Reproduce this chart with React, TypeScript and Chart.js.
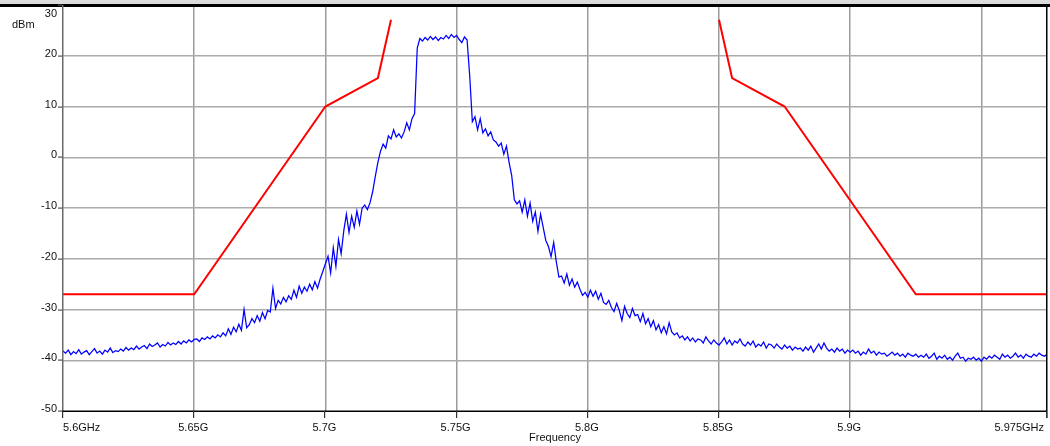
import React, { useEffect, useRef } from "react";
import { Chart, registerables } from "chart.js";

Chart.register(...registerables);

// ---- data ----
const FREQ_START_GHZ = 5.6;
const FREQ_STEP_GHZ = 0.001;

// measured spectrum trace, dBm, one value per 1 MHz from 5.600 GHz to 5.975 GHz
const TRACE_DBM: number[] = [
  // 5.600 - 5.650
  -38.2, -38.6, -38.0, -38.9, -38.3, -38.7, -37.9, -38.8, -38.4, -38.1, -38.9,
  -38.3, -37.7, -38.6, -38.2, -38.8, -38.0, -38.4, -37.6, -38.5, -38.1,
  -38.3, -37.8, -38.2, -37.5, -38.0, -37.6, -37.9, -37.2, -37.8, -37.4,
  -37.1, -37.7, -36.8, -37.3, -37.0, -36.6, -37.4, -36.9, -37.2, -36.5,
  -37.0, -36.6, -36.9, -36.3, -36.8, -36.2, -36.6, -36.0, -36.4, -35.9,
  // 5.651 - 5.660
  -35.8, -36.3, -35.6, -35.9, -35.4, -35.8, -35.2, -35.6, -35.0, -35.4,
  // 5.661 - 5.670
  -34.6, -35.2, -33.8, -34.9, -33.5, -34.4, -32.9, -34.1, -30.0, -33.6,
  // 5.671 - 5.680
  -33.0, -31.8, -32.6, -31.2, -32.3, -30.6, -31.8, -30.2, -30.5, -25.8,
  // 5.681 - 5.690
  -29.8, -28.2, -28.9, -27.6, -28.5, -27.3, -28.0, -26.2, -27.6, -25.4,
  // 5.691 - 5.700
  -26.8, -25.6, -26.4, -25.0, -26.1, -24.5, -25.8, -24.0, -22.5, -21.0,
  // 5.701 - 5.710
  -19.5, -22.8, -17.8, -21.5, -16.2, -19.0, -14.5, -11.2, -14.8, -11.6,
  // 5.711 - 5.720
  -13.8, -10.6, -13.2, -10.0, -9.4, -10.3, -9.0, -6.8, -3.8, -1.0,
  // 5.721 - 5.730
  1.2, 2.6, 1.8, 4.2, 3.6, 5.4, 4.0, 4.6, 3.8, 5.0,
  // 5.731 - 5.735
  6.8, 5.4, 7.6, 8.6, 21.5,
  // 5.736 - 5.754
  23.4, 22.9, 23.6, 23.1, 23.8, 23.2, 23.7, 23.0, 23.6, 23.3,
  24.0, 23.4, 24.2, 23.6, 24.0, 23.2, 22.6, 23.7, 23.1,
  // 5.755 - 5.765
  16.0, 7.0, 8.0, 5.4, 7.6, 4.8, 5.6, 4.2, 5.0, 3.4, 3.0,
  // 5.766 - 5.772
  2.2, 2.8, 0.6, 2.2, -1.0, -3.6, -8.4,
  // 5.773 - 5.778
  -9.2, -8.6, -10.8, -8.4, -11.6, -9.0,
  // 5.779 - 5.784
  -12.6, -10.8, -14.6, -11.2, -13.8, -16.4,
  // 5.785 - 5.789
  -17.6, -19.6, -16.8, -20.6, -23.6,
  // 5.790 - 5.796
  -23.4, -24.8, -23.0, -25.2, -24.0, -25.6, -24.6,
  // 5.797 - 5.802
  -26.0, -27.2, -26.6, -27.6, -26.2, -27.4,
  // 5.803 - 5.806
  -26.4, -28.0, -26.8, -28.6,
  // 5.807 - 5.818
  -29.0, -28.2, -29.6, -30.4, -28.8, -30.2, -32.2, -29.4, -30.8, -31.6, -29.8, -31.2,
  // 5.819 - 5.832
  -31.0, -32.4, -30.8, -32.8, -31.8, -33.4, -32.2, -34.0, -33.0, -34.6, -33.4, -34.8, -32.6, -34.4,
  // 5.833 - 5.850
  -35.0, -34.6, -35.6, -35.2, -36.0, -35.4, -36.2, -35.6, -36.4, -35.8,
  -36.0, -36.6, -35.4, -36.2, -36.8, -36.0, -36.6, -37.0,
  // 5.851 - 5.880
  -36.4, -35.6, -36.8, -36.0, -37.0, -36.2, -36.6, -35.8, -36.8, -37.2,
  -36.4, -37.0, -36.2, -37.4, -36.8, -37.2, -36.4, -37.6, -36.8, -37.0,
  -37.6, -36.8, -37.4, -37.8, -37.0, -37.6, -37.2, -38.0, -37.4, -37.8,
  // 5.881 - 5.900
  -37.6, -38.2, -37.4, -38.0, -37.2, -38.4, -37.6, -36.8, -37.8, -36.6,
  -37.6, -38.2, -37.8, -38.4, -37.6, -38.2, -37.8, -38.6, -38.0, -38.4,
  // 5.901 - 5.926
  -38.0, -38.6, -38.2, -39.0, -38.4, -38.8, -37.8, -38.6, -38.2, -39.0,
  -38.4, -38.8, -38.6, -39.2, -38.8, -38.4, -39.0, -38.6, -39.2, -38.8,
  -39.4, -38.6, -39.0, -39.2, -38.8, -39.4,
  // 5.927 - 5.948
  -39.0, -39.4, -38.8, -39.6, -39.2, -38.6, -39.8, -39.2, -39.6, -39.0,
  -39.8, -39.4, -40.0, -39.2, -38.6, -39.6, -39.4, -40.2, -39.6, -39.8,
  -39.4, -40.0,
  // 5.949 - 5.975
  -39.6, -40.2, -39.4, -39.8, -39.2, -39.6, -39.0, -39.4, -39.8, -38.8,
  -39.4, -39.0, -39.6, -39.2, -38.6, -39.4, -39.0, -39.6, -38.8, -39.2,
  -39.4, -38.8, -39.2, -38.6, -39.0, -39.2, -38.8,
];

// spectral emission mask (two branches, separated by a gap)
const MASK_FREQ: number[] = [5.6, 5.65, 5.7, 5.72, 5.725, 5.79, 5.85, 5.855, 5.875, 5.925, 5.975];
const MASK_DBM: (number | null)[] = [-27, -27, 10, 15.6, 27.1, null, 27.1, 15.6, 10, -27, -27];

const X_MIN = 5.6;
const X_MAX = 5.975;
const X_TICKS: number[] = [5.6, 5.65, 5.7, 5.75, 5.8, 5.85, 5.9, 5.95, 5.975];
const X_TICK_LABELS: string[] = ["5.6GHz", "5.65G", "5.7G", "5.75G", "5.8G", "5.85G", "5.9G", "", "5.975GHz"];

const Y_MIN = -50;
const Y_MAX = 30;
const Y_TICKS: number[] = [30, 20, 10, 0, -10, -20, -30, -40, -50];
const Y_TICK_LABELS: string[] = ["30", "20", "10", "0", "-10", "-20", "-30", "-40", "-50"];

const Y_UNIT = "dBm";
const X_TITLE = "Frequency";

const FONT = '11px "Liberation Sans", Arial, sans-serif';

const framePlugin = {
  id: "frame",
  afterDraw(chart: any) {
    const ctx = chart.ctx as CanvasRenderingContext2D;
    const xs = chart.scales.x;
    const ys = chart.scales.y;
    const { left, right, top, bottom } = chart.chartArea;
    const W = chart.width;
    ctx.save();

    // top band
    ctx.fillStyle = "#dcdcdc";
    ctx.fillRect(0, 0, W, 4);
    ctx.fillStyle = "#000";
    ctx.fillRect(0, 4, W, 3);

    // left axis
    ctx.fillStyle = "#6a6a6a";
    ctx.fillRect(left - 1, top, 1.5, bottom - top);
    // bottom axis
    ctx.fillStyle = "#000";
    ctx.fillRect(left - 1, bottom - 0.5, right - left + 1, 1.5);
    // right border
    ctx.fillRect(right - 1, top, 1.5, bottom - top + 7);

    // x tick marks + labels
    ctx.font = FONT;
    ctx.textBaseline = "alphabetic";
    X_TICKS.forEach((v, i) => {
      const label = X_TICK_LABELS[i];
      const px = xs.getPixelForValue(v);
      if (!label) return;
      ctx.fillStyle = "#333";
      ctx.fillRect(Math.round(px) - 1, bottom, 1.2, 7);
      ctx.fillStyle = "#111";
      if (i === 0) {
        ctx.textAlign = "left";
        ctx.fillText(label, px, bottom + 20);
      } else if (i === X_TICKS.length - 1) {
        ctx.textAlign = "right";
        ctx.fillText(label, px - 3, bottom + 20);
      } else {
        ctx.textAlign = "center";
        ctx.fillText(label, px - 1, bottom + 20);
      }
    });

    // y tick marks + labels
    Y_TICKS.forEach((v, i) => {
      const py = ys.getPixelForValue(v);
      ctx.fillStyle = "#555";
      ctx.fillRect(left - 5, Math.round(py) - 0.5, 4, 1.2);
      ctx.fillStyle = "#111";
      ctx.textAlign = "right";
      ctx.textBaseline = "alphabetic";
      const base = i === 0 ? py + 12 : py + 1;
      ctx.fillText(Y_TICK_LABELS[i], left - 6, base);
    });

    // unit + axis title
    ctx.textAlign = "left";
    ctx.fillText(Y_UNIT, 12, 28);
    ctx.textAlign = "center";
    ctx.fillText(X_TITLE, (left + right) / 2, bottom + 30);

    ctx.restore();
  },
};

export default function App() {
  const ref = useRef<HTMLCanvasElement | null>(null);

  useEffect(() => {
    document.body.style.margin = "0";
    if (!ref.current) return;
    const trace = TRACE_DBM.map((y, i) => ({
      x: +(FREQ_START_GHZ + i * FREQ_STEP_GHZ).toFixed(3),
      y,
    }));
    const mask = MASK_FREQ.map((x, i) => ({ x, y: MASK_DBM[i] }));

    const chart = new Chart(ref.current, {
      type: "line",
      data: {
        datasets: [
          {
            data: trace as any,
            borderColor: "#0000ff",
            borderWidth: 1.25,
            pointRadius: 0,
            tension: 0,
          },
          {
            data: mask as any,
            borderColor: "#ff0000",
            borderWidth: 2,
            pointRadius: 0,
            tension: 0,
            spanGaps: false,
          },
        ],
      },
      options: {
        animation: false,
        responsive: false,
        events: [],
        layout: { padding: { top: 5, right: 3, left: 0, bottom: 0 } },
        plugins: {
          legend: { display: false },
          tooltip: { enabled: false },
        },
        scales: {
          x: {
            type: "linear",
            min: X_MIN,
            max: X_MAX,
            afterBuildTicks: (s: any) => {
              s.ticks = X_TICKS.map((value) => ({ value }));
            },
            afterFit: (s: any) => {
              s.height = 35;
            },
            ticks: { display: false },
            border: { display: false },
            grid: {
              drawTicks: false,
              lineWidth: 1.5,
              color: (c: any) => {
                const v = c.tick?.value;
                if (v === X_MIN || v === X_MAX) return "rgba(0,0,0,0)";
                return "#9c9c9c";
              },
            },
          },
          y: {
            type: "linear",
            min: Y_MIN,
            max: Y_MAX,
            afterBuildTicks: (s: any) => {
              s.ticks = Y_TICKS.map((value) => ({ value }));
            },
            afterFit: (s: any) => {
              s.width = 63;
            },
            ticks: { display: false },
            border: { display: false },
            grid: {
              drawTicks: false,
              lineWidth: 1.5,
              color: (c: any) => {
                const v = c.tick?.value;
                if (v === Y_MIN || v === Y_MAX) return "rgba(0,0,0,0)";
                return "#ababab";
              },
            },
          },
        },
      },
      plugins: [framePlugin],
    });
    return () => chart.destroy();
  }, []);

  return (
    <div style={{ width: 1050, height: 446, background: "#fff" }}>
      <canvas ref={ref} width={1050} height={446} style={{ display: "block" }} />
    </div>
  );
}
